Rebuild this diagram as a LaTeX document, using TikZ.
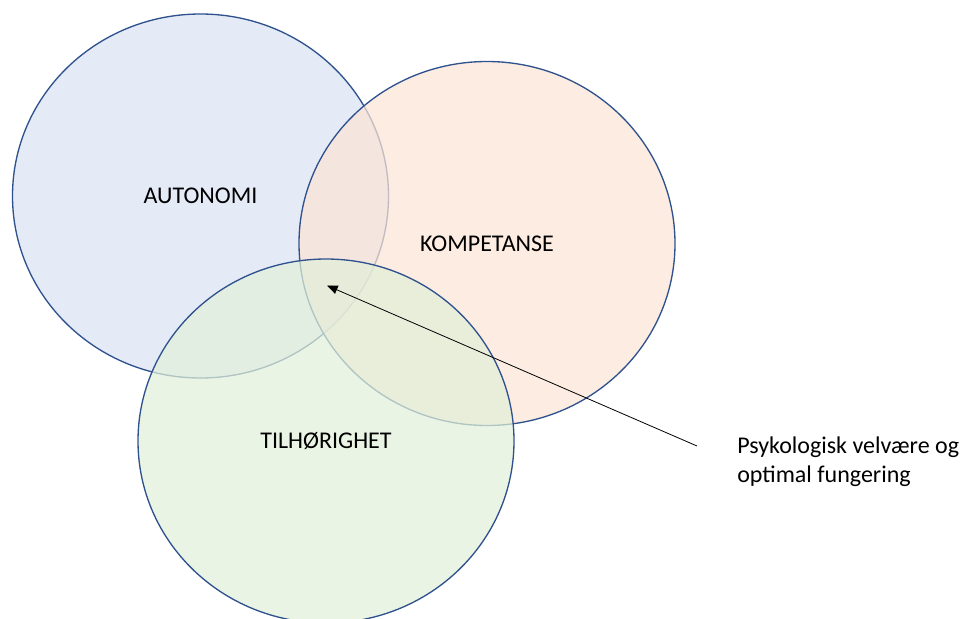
\documentclass[tikz,border=0pt]{standalone}
\usepackage{fontspec}
\setmainfont{Carlito}
\usetikzlibrary{shapes.geometric,arrows.meta}
\definecolor{ringline}{HTML}{2F528F}
\definecolor{autofill}{HTML}{DAE3F3}
\definecolor{kompfill}{HTML}{FBE5D6}
\definecolor{tilhfill}{HTML}{E2F0D9}
\tikzset{
  need/.style={ellipse, draw=ringline, line width=1pt, fill opacity=0.72,
    text opacity=1, minimum width=282pt, minimum height=273pt, inner sep=0pt,
    font=\fontsize{18}{22}\selectfont},
  pointer/.style={-{Triangle[length=8pt,width=6.5pt]}, line width=0.6pt, black},
  caption/.style={anchor=west, align=left, inner sep=0pt,
    font=\fontsize{18}{22}\selectfont}
}
\begin{document}
\begin{tikzpicture}[x=0.75pt,y=-0.75pt]
  \useasboundingbox (0,0) rectangle (971,618);
  % the three basic needs
  \node[need, fill=autofill] (auto) at (200.5,196) {AUTONOMI};
  \node[need, fill=kompfill] (komp) at (487,243.5) {KOMPETANSE};
  \node[need, fill=tilhfill] (tilh) at (326,441) {TILHØRIGHET};
  % the shared centre and its label
  \coordinate (centre) at (327,285.5);
  \coordinate (tail) at (697,446);
  \node[caption] (label) at (737,462) {Psykologisk velvære og\\optimal fungering};
  \draw[pointer] (tail) -- (centre);
\end{tikzpicture}
\end{document}
